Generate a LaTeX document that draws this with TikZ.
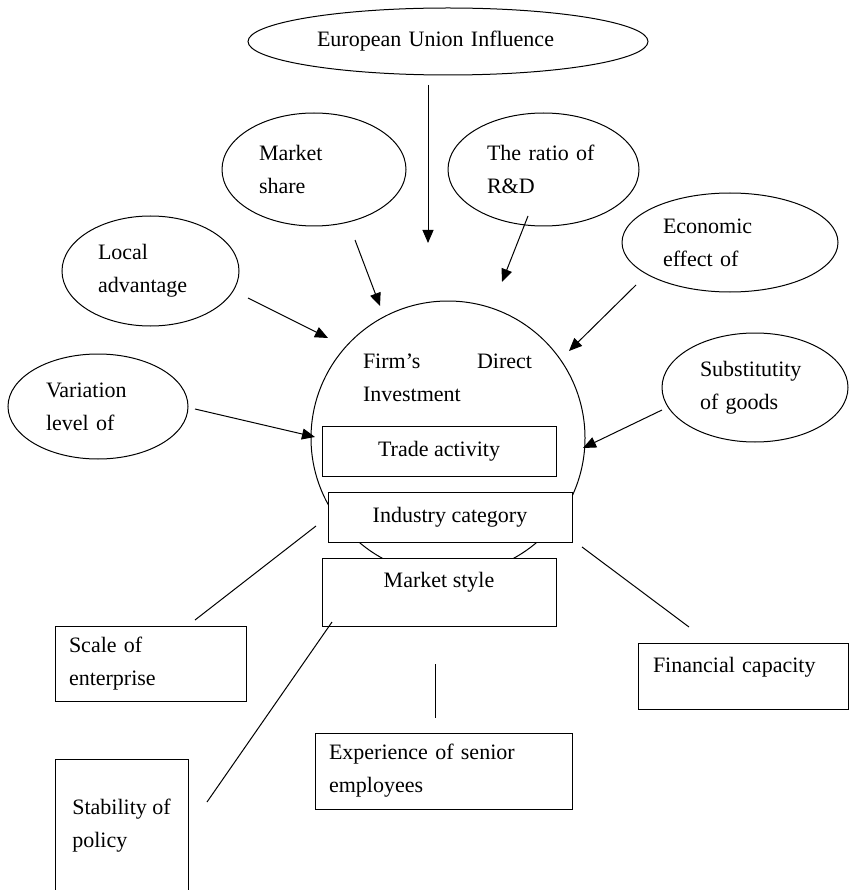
\documentclass[tikz,border=0pt]{standalone}
\usepackage{fontspec}
\setmainfont{Liberation Serif}
\usetikzlibrary{shapes,arrows.meta}
\tikzstyle{factor} = [draw, ellipse, inner sep=0pt, align=left]
\tikzstyle{core} = [draw, circle, inner sep=0pt]
\tikzstyle{block} = [draw, rectangle, fill=white, inner sep=0pt]
\tikzstyle{note} = [block, align=left]

\begin{document}
\begin{tikzpicture}[x=1pt,y=-1pt,line width=1pt,
	font=\fontsize{22pt}{33pt}\selectfont,
	>={Triangle[length=13pt,width=11pt]}]
	\useasboundingbox (0,0) rectangle (850,890);

	% the influence ellipses round the firm
	\node [factor,text width=262,minimum width=400,minimum height=67] (eu) at (448,41.5) {European Union Influence};
	\node [factor,text width=110,minimum width=184,minimum height=113] (share) at (314,169.5) {Market\\share};
	\node [factor,text width=113,minimum width=191,minimum height=113] (rd) at (543.5,169.5) {The ratio of\\R\&D};
	\node [factor,text width=105,minimum width=177,minimum height=110] (local) at (150.5,271) {Local\\advantage};
	\node [factor,text width=134,minimum width=216,minimum height=99] (econ) at (730,242.5) {Economic\\effect of};
	\node [factor,text width=104,minimum width=180,minimum height=105] (var) at (98,406.5) {Variation\\level of};
	\node [factor,text width=110,minimum width=186,minimum height=109] (subst) at (755,387.5) {Substitutity\\of goods};

	% the firm with its three blocks
	\node [core,minimum size=274] (fdi) at (448,438) {};
	\node [align=left,text width=169] (fditext) at (447.5,378) {Firm’s\hfill Direct\\Investment};
	\node [block,minimum width=234,minimum height=50] (trade) at (439,451) {Trade activity};
	\node [block,minimum width=244,minimum height=50] (ind) at (450,517) {Industry category};
	\node [block,minimum width=234,text height=29,text depth=39] (mkt) at (439,592) {Market style};

	% the outer boxes
	\node [note,text width=163,inner xsep=14,minimum height=75] (scale) at (150.5,663.5) {Scale of\\enterprise};
	\node [note,text width=180,inner xsep=15,text height=29,text depth=37] (fin) at (743,676) {Financial capacity};
	\node [note,text width=229,inner xsep=14,minimum height=76] (exper) at (443.5,771) {Experience of senior\\employees};
	\node [note,minimum width=133,minimum height=133] (policy) at (121.5,825.5) {Stability of\\policy};

	% loose ends of the arrows
	\coordinate (eu1) at (428,85);   \coordinate (eu2) at (428,243);
	\coordinate (sh1) at (355,240);  \coordinate (sh2) at (380,306);
	\coordinate (rd1) at (528,216);  \coordinate (rd2) at (502,282);
	\coordinate (lo1) at (248,298);  \coordinate (lo2) at (328,338);
	\coordinate (ec1) at (636,285);  \coordinate (ec2) at (569,351);
	\coordinate (va1) at (195,409);  \coordinate (va2) at (315,437);
	\coordinate (su1) at (662,410);  \coordinate (su2) at (583,448);

	% loose ends of the plain lines
	\coordinate (sc1) at (316,526);  \coordinate (sc2) at (195,620);
	\coordinate (po1) at (332,622);  \coordinate (po2) at (207,802);
	\coordinate (ex1) at (435,664);  \coordinate (ex2) at (435,718);
	\coordinate (fi1) at (582,547);  \coordinate (fi2) at (689,627);

	% draw the arrows
	\draw [->] (eu1) -- (eu2);
	\draw [->] (sh1) -- (sh2);
	\draw [->] (rd1) -- (rd2);
	\draw [->] (lo1) -- (lo2);
	\draw [->] (ec1) -- (ec2);
	\draw [->] (va1) -- (va2);
	\draw [->] (su1) -- (su2);

	% draw the lines
	\draw (sc1) -- (sc2);
	\draw (po1) -- (po2);
	\draw (ex1) -- (ex2);
	\draw (fi1) -- (fi2);

\end{tikzpicture}
\end{document}
